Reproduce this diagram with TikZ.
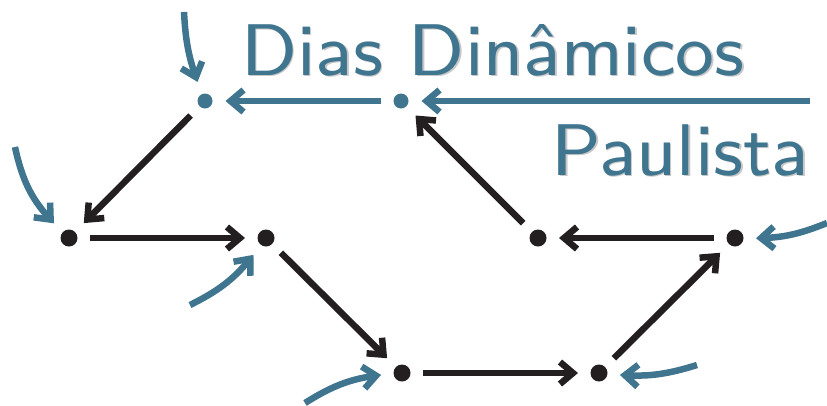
\documentclass[tikz,border=0pt]{standalone}
\usetikzlibrary{arrows.meta}
\definecolor{dblue}{RGB}{63,117,143}
\definecolor{dblack}{RGB}{35,31,32}
\definecolor{shadowgray}{RGB}{200,200,200}
\newcommand{\lbltext}[1]{\scalebox{9.15}{\fontfamily{lmss}\fontsize{8}{9}\selectfont #1}}
\begin{document}
\begin{tikzpicture}[x=1pt,y=-1pt,
  tip/.tip={Straight Barb[length=13pt,width=22pt]},
  bdot/.style={circle,fill=dblack,inner sep=0pt,minimum size=17pt,outer sep=12.5pt},
  udot/.style={circle,fill=dblue,inner sep=0pt,minimum size=15pt,outer sep=13pt},
  blk/.style={draw=dblack,line width=6.5pt,-tip},
  blu/.style={draw=dblue,line width=6.5pt,-tip},
  lbl/.style={inner sep=0pt,text=dblue},
  shd/.style={inner sep=0pt,text=shadowgray}]
\useasboundingbox (0,0) rectangle (827,405);
\node[udot] (A) at (205,101) {};
\node[udot] (B) at (401,101) {};
\node[bdot] (C) at (69,238) {};
\node[bdot] (D) at (266,238) {};
\node[bdot] (E) at (402,373) {};
\node[bdot] (F) at (599,373) {};
\node[bdot] (G) at (735,238) {};
\node[bdot] (H) at (538,238) {};
% labels
\node[shd,anchor=base west] (t1s) at (242.5,76.5) {\lbltext{Dias Dinâmicos}};
\node[lbl,anchor=base west] (t1) at (241,75) {\lbltext{Dias Dinâmicos}};
\node[shd,anchor=base east] (t2s) at (810.5,176.5) {\lbltext{Paulista}};
\node[lbl,anchor=base east] (t2) at (809,175) {\lbltext{Paulista}};
% black connectors
\draw[blk] (A) -- (C);
\draw[blk] (C) -- (D);
\draw[blk] (D) -- (E);
\draw[blk] (E) -- (F);
\draw[blk] (F) -- (G);
\draw[blk] (G) -- (H);
\draw[blk] (H) -- (B);
% blue connectors
\coordinate (R) at (810,101);
\draw[blu] (B) -- (A);
\draw[blu] (R) -- (B);
\coordinate (a0) at (184,12);
\coordinate (c0) at (15,147);
\coordinate (d0) at (190,305);
\coordinate (e0) at (305,403);
\coordinate (f0) at (697,365);
\coordinate (g0) at (827,223);
\draw[blu] (a0) to[bend right=8] (A);
\draw[blu] (c0) to[bend right=15] (C);
\draw[blu] (d0) to[bend right=12] (D);
\draw[blu] (e0) to[bend left=12] (E);
\draw[blu] (f0) to[bend left=10] (F);
\draw[blu] (g0) to[bend left=10] (G);
\end{tikzpicture}
\end{document}
